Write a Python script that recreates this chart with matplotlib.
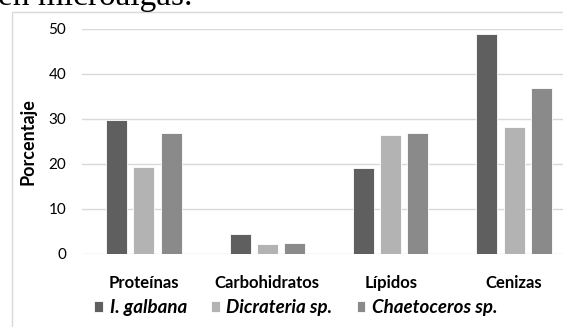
import matplotlib
matplotlib.use("Agg")
import matplotlib.pyplot as plt
import numpy as np
from matplotlib.patches import Rectangle

plt.rcParams['font.family'] = ['Lato', 'DejaVu Sans']

categories = ["Proteínas", "Carbohidratos", "Lípidos", "Cenizas"]
series_names = ["I. galbana", "Dicrateria sp.", "Chaetoceros sp."]
i_galbana = [29.8, 4.3, 19.0, 48.8]
dicrateria = [19.2, 2.1, 26.4, 28.1]
chaetoceros = [26.9, 2.3, 26.8, 36.9]
colors = ["#5f5f5f", "#b3b3b3", "#8a8a8a"]
yticks = [0, 10, 20, 30, 40, 50]

W, H = 563, 327
fig = plt.figure(figsize=(W / 100, H / 100), dpi=100)

# caption line from the surrounding document, cut at the top edge
fig.text(-2 / W, 1 - 5 / H, "en microalgas.", family="Liberation Serif",
         fontsize=24, ha="left", va="baseline", color="black")

# light chart frame
fig.patches.append(Rectangle((11.5 / W, -0.1), 1.2, (H - 12.5) / H + 0.1,
                             transform=fig.transFigure, fill=False,
                             edgecolor="#d9d9d9", linewidth=1.0))

left, right = 82.3 / W, 575.7 / W
bottom, top = (H - 253.7) / H, (H - 28.7) / H
ax = fig.add_axes([left, bottom, right - left, top - bottom])

x = np.arange(len(categories))
width = 0.17
step = 0.221
series = [i_galbana, dicrateria, chaetoceros]
handles = []
for k, (vals, c, name) in enumerate(zip(series, colors, series_names)):
    b = ax.bar(x + (k - 1) * step, vals, width, color=c, label=name,
               edgecolor="white", linewidth=0.6, zorder=3)
    handles.append(b)

ax.set_xlim(-0.5, len(categories) - 0.5)
ax.set_ylim(0, 50)
ax.set_yticks(yticks)
ax.set_yticklabels([str(t) for t in yticks], fontsize=11, color="black")
ax.set_xticks(x)
ax.set_xticklabels(categories, fontsize=12, fontweight="bold")
ax.tick_params(axis="both", length=0)
ax.tick_params(axis="y", pad=11.5)
ax.tick_params(axis="x", pad=15)
ax.grid(axis="y", color="#d9d9d9", linewidth=1.0, zorder=0)
for s in ax.spines.values():
    s.set_visible(False)
ax.set_axisbelow(True)

fig.text(28 / W, 1 - 141.7 / H, "Porcentaje", rotation=90, fontsize=13,
         fontweight="bold", ha="center", va="center")

leg = fig.legend(handles=handles, labels=series_names, loc="center",
                 bbox_to_anchor=(296 / W, (H - 307.7) / H), ncol=3,
                 frameon=False, handlelength=0.45, handleheight=0.45,
                 handletextpad=0.37, columnspacing=1.3,
                 prop={"size": 13.5, "weight": "bold", "style": "italic"})

fig.savefig("out.png", dpi=100)
